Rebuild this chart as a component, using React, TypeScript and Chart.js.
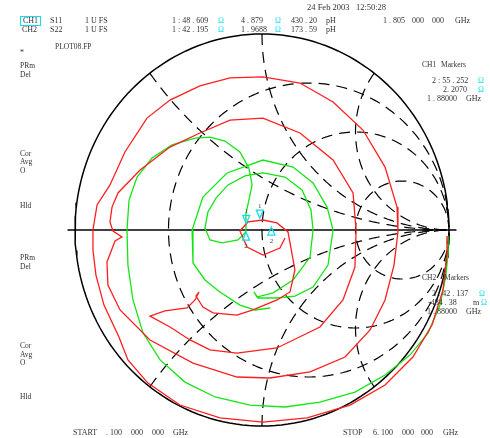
import React, { useEffect, useRef } from "react";
import { Chart, registerables } from "chart.js";
Chart.register(...registerables);

const s11Re = [0.989,0.989,0.968,0.909,0.807,0.658,0.471,0.241,0.005,-0.225,-0.439,-0.610,-0.717,-0.765,-0.845,-0.888,-0.904,-0.904,
  -0.882,-0.813,-0.733,-0.615,-0.492,-0.332,-0.171,0.005,0.203,0.380,0.540,0.658,0.722,0.727,0.706,0.658,0.578,0.444,0.257,0.043,-0.134,-0.369,-0.599,-0.759,-0.824,
  -0.829,-0.786,-0.749,-0.797,-0.813,-0.802,-0.770,-0.652,-0.492,-0.332,-0.171,0.005,0.203,0.380,0.487,0.503,0.497,0.433,0.310,0.080,-0.134,-0.278,-0.385,-0.492,-0.599,
  -0.519,-0.401,-0.358,-0.337,-0.353,-0.316,-0.262,-0.134,-0.048,0.080,0.150,0.176,0.155,0.139,0.080,0.005,-0.075,-0.118,-0.080,0.005,0.096,0.123];
const s11Im = [-0.031,-0.128,-0.306,-0.485,-0.648,-0.791,-0.893,-0.959,-0.980,-0.959,-0.893,-0.781,-0.663,-0.546,-0.383,-0.230,-0.102,0.000,
  0.128,0.230,0.398,0.571,0.663,0.735,0.776,0.781,0.750,0.653,0.510,0.321,0.117,-0.010,-0.179,-0.357,-0.510,-0.648,-0.724,-0.755,-0.750,-0.679,-0.561,-0.408,-0.281,
  -0.163,-0.056,-0.036,-0.005,0.041,0.117,0.189,0.306,0.423,0.495,0.561,0.571,0.495,0.357,0.189,0.000,-0.189,-0.357,-0.495,-0.602,-0.628,-0.612,-0.561,-0.495,-0.439,
  -0.413,-0.398,-0.357,-0.316,-0.337,-0.393,-0.423,-0.434,-0.408,-0.357,-0.316,-0.204,-0.092,-0.010,0.036,0.051,0.041,-0.005,-0.087,-0.128,-0.092,-0.041];

// S22 (CH2)
const s22Re = [0.995,0.995,0.984,0.952,0.888,0.791,0.658,0.497,0.310,0.123,
  -0.064,-0.251,-0.412,-0.545,-0.636,-0.690,-0.717,-0.722,-0.711,-0.668,
  -0.588,-0.481,-0.358,-0.278,-0.198,-0.118,-0.070,-0.053,-0.070,-0.086,
  -0.086,-0.086,-0.128,-0.214,-0.278,-0.305,-0.289,-0.246,-0.182,-0.091,
  0.005,0.123,0.214,0.262,0.273,0.257,0.166,0.059,-0.027,-0.043,
  -0.021,0.080,0.176,0.273,0.353,0.380,0.348,0.273,0.166,0.005,
  -0.187,-0.316,-0.374,-0.369,-0.305,-0.225,-0.118,-0.037,0.043];
const s22Im = [-0.031,-0.112,-0.230,-0.383,-0.526,-0.638,-0.740,-0.827,-0.878,-0.903,
  -0.893,-0.852,-0.776,-0.663,-0.526,-0.357,-0.179,0.000,0.153,0.270,
  0.367,0.434,0.469,0.474,0.454,0.398,0.316,0.230,0.153,0.082,
  0.020,-0.010,-0.051,-0.066,-0.051,0.010,0.092,0.163,0.230,0.276,
  0.291,0.270,0.204,0.102,0.000,-0.138,-0.255,-0.321,-0.342,-0.316,
  -0.347,-0.347,-0.337,-0.291,-0.179,0.000,0.117,0.240,0.321,0.357,
  0.291,0.168,0.000,-0.168,-0.255,-0.316,-0.383,-0.408,-0.398];

// Smith chart graticule
const resistanceCircles = [1 / 3, 1, 3];
const reactanceArcs = [0.5, 1, 2];

// Markers (ohms), Z0 = 50
const z0 = 50;
const ch1MarkerR = [48.609, 55.252];
const ch1MarkerX = [4.879, 2.207];
const ch2MarkerR = [42.195, 42.137];
const ch2MarkerX = [1.9688, -0.48438];
const markerLabels = ["1", "2"];

function gamma(r: number, x: number) {
  const den = (r + 1) * (r + 1) + x * x;
  return { x: (r * r + x * x - 1) / den, y: (2 * x) / den };
}

function linspace(a: number, b: number, n: number) {
  const out: number[] = [];
  for (let i = 0; i < n; i++) out.push(a + ((b - a) * i) / (n - 1));
  return out;
}

const RED = "#ff1e1e";
const GREEN = "#14e614";
const CYAN = "#12dcf0";
const TXT = "#333333";

export default function App() {
  const ref = useRef<HTMLCanvasElement>(null);

  useEffect(() => {
    const canvas = ref.current!;
    const datasets: any[] = [];

    // outer circle
    const outer = linspace(0, 2 * Math.PI, 181).map((a) => ({ x: Math.cos(a), y: Math.sin(a) }));
    datasets.push({ data: outer, borderColor: "#000", borderWidth: 1.5, order: 8 });
    // real axis
    datasets.push({ data: [{ x: -1.04, y: 0 }, { x: 1.04, y: 0 }], borderColor: "#000", borderWidth: 1.3, order: 8 });

    // resistance circles
    resistanceCircles.forEach((r) => {
      const pts = linspace(-89.6, 89.6, 301).map((d) => gamma(r, Math.tan((d * Math.PI) / 180)));
      datasets.push({ data: pts, borderColor: "#000", borderWidth: 1.2, borderDash: [11, 7], order: 9 });
    });
    // reactance arcs
    reactanceArcs.forEach((xv) => {
      [xv, -xv].forEach((xx) => {
        const pts = linspace(0, 89.6, 241).map((d) => gamma(Math.tan((d * Math.PI) / 180), xx));
        datasets.push({ data: pts, borderColor: "#000", borderWidth: 1.2, borderDash: [11, 7], order: 9 });
      });
    });

    datasets.push({
      data: s22Re.map((v, i) => ({ x: v, y: s22Im[i] })),
      borderColor: GREEN, borderWidth: 1.3, order: 2,
    });
    datasets.push({
      data: s11Re.map((v, i) => ({ x: v, y: s11Im[i] })),
      borderColor: RED, borderWidth: 1.3, order: 1,
    });

    datasets.forEach((d) => {
      d.showLine = true;
      d.pointRadius = 0;
      d.tension = 0;
      d.fill = false;
      d.clip = false;
    });

    const markerPlugin = {
      id: "markers",
      afterDatasetsDraw(chart: any) {
        const ctx = chart.ctx;
        const xs = chart.scales.x;
        const ys = chart.scales.y;
        const draw = (R: number[], X: number[]) => {
          R.forEach((r, i) => {
            const g = gamma(r / z0, X[i] / z0);
            const px = xs.getPixelForValue(g.x);
            const py = ys.getPixelForValue(g.y);
            const down = i === 0;
            ctx.save();
            ctx.strokeStyle = CYAN;
            ctx.lineWidth = 1.3;
            ctx.beginPath();
            if (down) {
              ctx.moveTo(px, py - 2);
              ctx.lineTo(px - 3.5, py - 10);
              ctx.lineTo(px + 3.5, py - 10);
            } else {
              ctx.moveTo(px, py + 1);
              ctx.lineTo(px - 3.5, py + 9);
              ctx.lineTo(px + 3.5, py + 9);
            }
            ctx.closePath();
            ctx.stroke();
            ctx.fillStyle = "#444";
            ctx.font = '7px "Liberation Serif"';
            ctx.textAlign = "center";
            ctx.textBaseline = "middle";
            ctx.fillText(markerLabels[i], px, down ? py - 14 : py + 15);
            ctx.restore();
          });
        };
        draw(ch1MarkerR, ch1MarkerX);
        draw(ch2MarkerR, ch2MarkerX);
      },
    };

    const textPlugin = {
      id: "texts",
      afterDraw(chart: any) {
        const ctx = chart.ctx;
        ctx.save();
        ctx.textBaseline = "middle";
        ctx.textAlign = "left";
        const t = (s: string, x: number, y: number, color = TXT, size = 8) => {
          ctx.fillStyle = color;
          ctx.font = `${size}px "Liberation Serif"`;
          ctx.fillText(s, x, y);
        };
        t("24 Feb 2003   12:50:28", 307, 8, TXT, 8.5);
        ctx.strokeStyle = CYAN;
        ctx.lineWidth = 1;
        ctx.strokeRect(20.5, 16.5, 20, 9);
        t("CH1", 23, 21);
        t("S11", 50, 21);
        t("1 U FS", 85, 21);
        t("1 : 48 . 609", 172, 21);
        t("Ω", 218, 21, CYAN);
        t("4 . 879", 241, 21);
        t("Ω", 275, 21, CYAN);
        t("430 . 20", 291, 21);
        t("pH", 326, 21);
        t("1 . 805", 383, 21);
        t("000", 412, 21);
        t("000", 432, 21);
        t("GHz", 455, 21);
        t("CH2", 22, 30);
        t("S22", 50, 30);
        t("1 U FS", 85, 30);
        t("1 : 42 . 195", 172, 30);
        t("Ω", 218, 30, CYAN);
        t("1 . 9688", 241, 30);
        t("Ω", 275, 30, CYAN);
        t("173 . 59", 291, 30);
        t("pH", 326, 30);

        t("*", 20, 53);
        t("PLOT08.FP", 55, 47, TXT, 7.5);
        const left: [string, number][] = [
          ["PRm", 66], ["Del", 75], ["Cor", 154], ["Avg", 162], ["O", 171], ["Hld", 206],
          ["PRm", 258], ["Del", 267], ["Cor", 346], ["Avg", 355], ["O", 363], ["Hld", 397],
        ];
        left.forEach(([s, y]) => t(s, 20, y, TXT, 7.5));

        t("CH1", 422, 65, TXT, 7.5);
        t("Markers", 441, 65, TXT, 7.5);
        t("2 : 55 . 252", 432, 81);
        t("Ω", 478, 81, CYAN);
        t("2. 2070", 443, 90);
        t("Ω", 478, 90, CYAN);
        t("1 . 88000", 427, 99);
        t("GHz", 466, 99);

        t("CH2", 422, 278, TXT, 7.5);
        t("Markers", 444, 278, TXT, 7.5);
        t("2 : 42 . 137", 432, 294);
        t("Ω", 479, 294, CYAN);
        t("-484 . 38", 428, 303);
        t("m", 473, 303);
        t("Ω", 481, 303, CYAN);
        t("1 . 88000", 427, 312);
        t("GHz", 466, 312);

        t("START", 73, 433);
        t(". 100", 106, 433);
        t("000", 131, 433);
        t("000", 152, 433);
        t("GHz", 173, 433);
        t("STOP", 343, 433);
        t("6. 100", 373, 433);
        t("000", 402, 433);
        t("000", 421, 433);
        t("GHz", 443, 433);
        ctx.restore();
      },
    };

    const chart = new Chart(canvas, {
      type: "scatter",
      data: { datasets },
      options: {
        responsive: false,
        animation: false,
        devicePixelRatio: 1,
        events: [],
        layout: { padding: { left: 75, right: 41, top: 34, bottom: 12 } },
        plugins: { legend: { display: false }, tooltip: { enabled: false } },
        scales: {
          x: { type: "linear", min: -1, max: 1, display: false },
          y: { type: "linear", min: -1, max: 1, display: false },
        },
      },
      plugins: [markerPlugin, textPlugin],
    });
    return () => chart.destroy();
  }, []);

  return (
    <div style={{ position: "absolute", left: 0, top: 0, width: 490, height: 438, background: "#fff" }}>
      <canvas ref={ref} width={490} height={438} style={{ display: "block" }} />
    </div>
  );
}
